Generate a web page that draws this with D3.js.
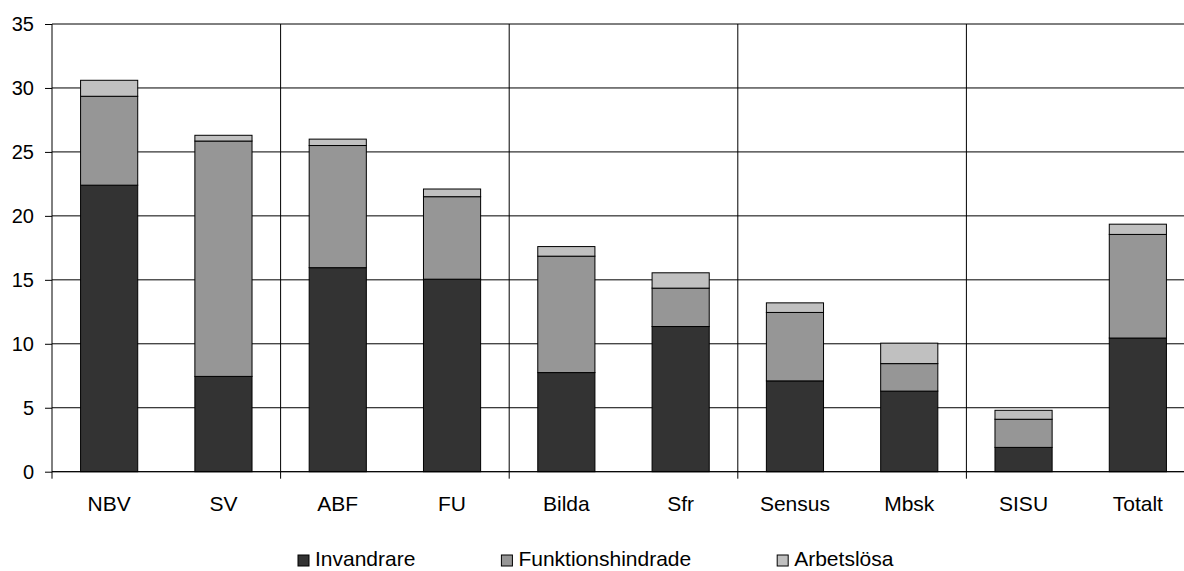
<!DOCTYPE html>
<html>
<head>
<meta charset="utf-8">
<script src="https://cdn.jsdelivr.net/npm/d3@7"></script>
<style>
  body { margin: 0; background: #fff; }
  text { font-family: "Liberation Sans", Arial, sans-serif; fill: #000; }
</style>
</head>
<body>
<div id="chart-area"></div>
<script>
var categories = ["NBV", "SV", "ABF", "FU", "Bilda", "Sfr", "Sensus", "Mbsk", "SISU", "Totalt"];
var seriesNames = ["Invandrare", "Funktionshindrade", "Arbetslösa"];

var invandrare = [22.4, 7.45, 15.95, 15.05, 7.75, 11.35, 7.1, 6.3, 1.9, 10.45];
var funktionshindrade = [6.95, 18.4, 9.55, 6.45, 9.1, 3.0, 5.35, 2.15, 2.2, 8.1];
var arbetslosa = [1.25, 0.45, 0.5, 0.6, 0.75, 1.2, 0.75, 1.6, 0.7, 0.8];

var yTicks = [0, 5, 10, 15, 20, 25, 30, 35];

var W = 1184, H = 571;
var plotLeft = 52, plotTop = 24, plotBottom = 471.7, plotRight = 1195;

var svg = d3.select("#chart-area")
  .append("svg")
  .attr("width", W)
  .attr("height", H);

var table = categories.map(function(c, i) {
  return {
    cat: c,
    Invandrare: invandrare[i],
    Funktionshindrade: funktionshindrade[i],
    "Arbetslösa": arbetslosa[i]
  };
});

var stacked = d3.stack().keys(seriesNames)(table);

var x = d3.scaleBand()
  .domain(categories)
  .range([plotLeft, plotRight])
  .paddingInner(0.5)
  .paddingOuter(0.25);

var y = d3.scaleLinear()
  .domain([0, 35])
  .range([plotBottom, plotTop]);

var color = d3.scaleOrdinal()
  .domain(seriesNames)
  .range(["#333333", "#969696", "#c0c0c0"]);

// horizontal gridlines
svg.selectAll(".hgrid")
  .data(yTicks)
  .enter()
  .append("line")
  .attr("x1", plotLeft)
  .attr("x2", W)
  .attr("y1", d => y(d))
  .attr("y2", d => y(d))
  .attr("stroke", "#000")
  .attr("stroke-width", 1);

// vertical gridlines every second category
var step = x.step();
var vLines = d3.range(1, 5).map(i => plotLeft + 2 * i * step);
svg.selectAll(".vgrid")
  .data(vLines)
  .enter()
  .append("line")
  .attr("x1", d => d)
  .attr("x2", d => d)
  .attr("y1", plotTop)
  .attr("y2", plotBottom + 7)
  .attr("stroke", "#000")
  .attr("stroke-width", 1);

// y axis
var yAxis = d3.axisLeft(y)
  .tickValues(yTicks)
  .tickSize(7)
  .tickPadding(11);

var yAxisGroup = svg.append("g")
  .attr("transform", "translate(" + plotLeft + ",0)")
  .call(yAxis);

yAxisGroup.select(".domain").remove();
yAxisGroup.append("line")
  .attr("x1", 0).attr("x2", 0)
  .attr("y1", plotTop).attr("y2", plotBottom + 7)
  .attr("stroke", "#000");
yAxisGroup.selectAll("text")
  .attr("font-size", "20px")
  .attr("font-family", "Liberation Sans, Arial, sans-serif")
  .attr("fill", "#000");

// bars
var groups = svg.selectAll(".series")
  .data(stacked)
  .enter()
  .append("g")
  .attr("fill", d => color(d.key));

groups.selectAll("rect")
  .data(d => d)
  .enter()
  .append("rect")
  .attr("x", d => x(d.data.cat))
  .attr("width", x.bandwidth())
  .attr("y", d => y(d[1]))
  .attr("height", d => y(d[0]) - y(d[1]))
  .attr("stroke", "#000")
  .attr("stroke-width", 1);

// zero line
svg.append("line")
  .attr("x1", plotLeft)
  .attr("x2", W)
  .attr("y1", y(0))
  .attr("y2", y(0))
  .attr("stroke", "#000");

// category labels
svg.selectAll(".cat")
  .data(categories)
  .enter()
  .append("text")
  .attr("x", d => x(d) + x.bandwidth() / 2)
  .attr("y", 511)
  .attr("text-anchor", "middle")
  .attr("font-size", "21px")
  .text(d => d);

// legend
var legend = svg.append("g");
var lx = 298;
seriesNames.forEach(function(name) {
  legend.append("rect")
    .attr("x", lx)
    .attr("y", 555)
    .attr("width", 11)
    .attr("height", 11)
    .attr("fill", color(name))
    .attr("stroke", "#000")
    .attr("stroke-width", 1);
  var t = legend.append("text")
    .attr("x", lx + 17)
    .attr("y", 566)
    .attr("font-size", "21px")
    .text(name);
  lx = lx + 17 + t.node().getComputedTextLength() + 86;
});
</script>
</body>
</html>
